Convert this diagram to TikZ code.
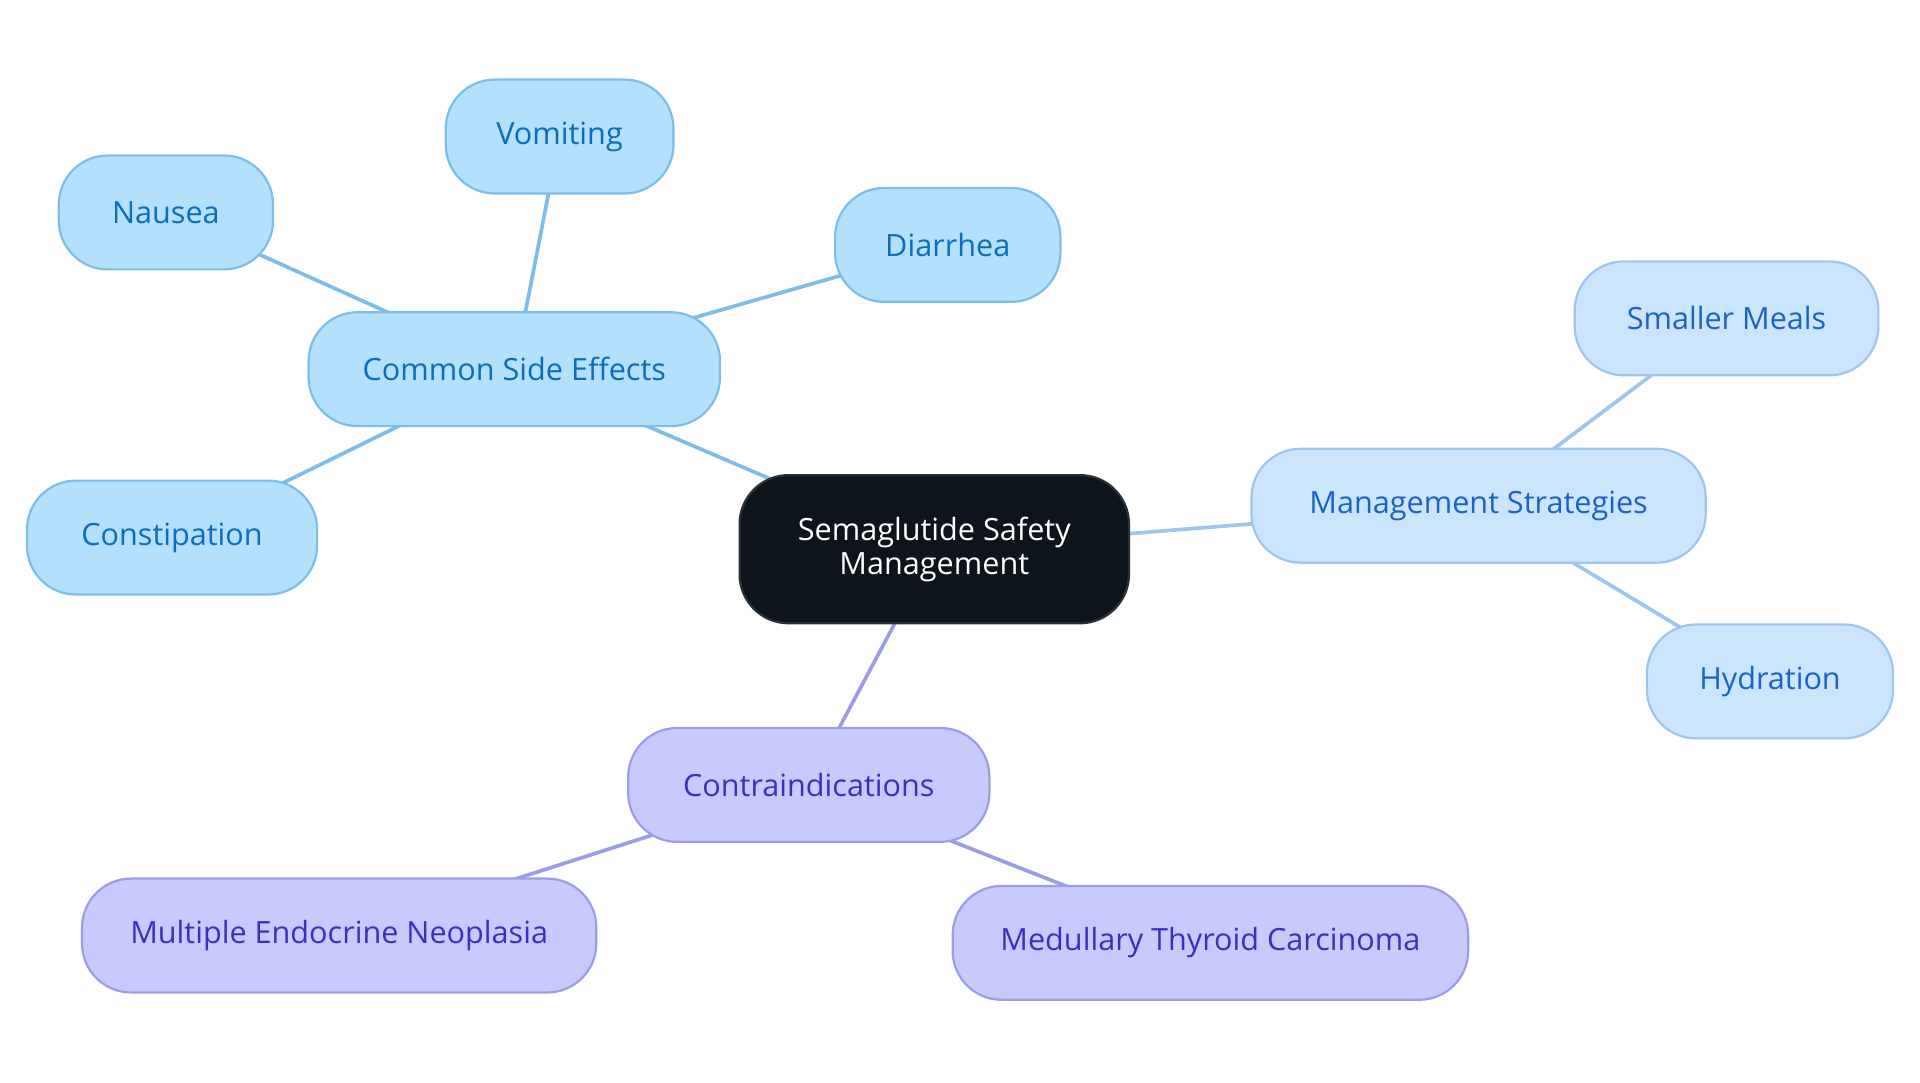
\documentclass[tikz,border=0pt]{standalone}
\usepackage{fontspec}
\setmainfont{Open Sans}
\usetikzlibrary{backgrounds}

\definecolor{sidefill}{HTML}{B3E0FD}
\definecolor{sideline}{HTML}{7EBDEA}
\definecolor{sidetext}{HTML}{0B6DBB}
\definecolor{planfill}{HTML}{CCE5FF}
\definecolor{planline}{HTML}{9DC6EE}
\definecolor{plantext}{HTML}{1B62C6}
\definecolor{contrafill}{HTML}{C8CAFD}
\definecolor{contraline}{HTML}{9C9DE8}
\definecolor{contratext}{HTML}{3A30C0}
\definecolor{hubfill}{HTML}{0D141B}
\definecolor{hubline}{HTML}{2B3037}

\begin{document}
\begin{tikzpicture}
        [x=0.5pt,y=-0.5pt,
         box/.style={rounded corners=20pt,line width=0.9pt,minimum height=46.5pt,
                     inner sep=0pt,font=\fontsize{12.5}{14}\selectfont},
         side/.style={box,fill=sidefill,draw=sideline,text=sidetext},
         plan/.style={box,fill=planfill,draw=planline,text=plantext},
         contra/.style={box,fill=contrafill,draw=contraline,text=contratext},
         hub/.style={box,fill=hubfill,draw=hubline,text=white,align=center,minimum height=60.5pt},
         sidelink/.style={line width=1.5pt,sideline},
         planlink/.style={line width=1.5pt,planline},
         contralink/.style={line width=1.5pt,contraline}]

        \useasboundingbox (0,0) rectangle (1568,884);

        \node[hub,minimum width=159pt] (safety) at (763,448.5) {Semaglutide Safety\\Management};

        \node[side,minimum width=168pt] (effects) at (420,301.5) {Common Side Effects};
        \node[side,minimum width=93pt] (vomiting) at (457,111.5) {Vomiting};
        \node[side,minimum width=87.5pt] (nausea) at (135.5,173.5) {Nausea};
        \node[side,minimum width=92pt] (diarrhea) at (774,200) {Diarrhea};
        \node[side,minimum width=118.5pt] (constipation) at (140.5,439) {Constipation};

        \node[plan,minimum width=185.5pt] (strategies) at (1207.5,413) {Management Strategies};
        \node[plan,minimum width=124pt] (meals) at (1410,260) {Smaller Meals};
        \node[plan,minimum width=100.5pt] (hydration) at (1445.5,556.5) {Hydration};

        \node[contra,minimum width=147.5pt] (contra) at (660.5,641) {Contraindications};
        \node[contra,minimum width=210pt] (neoplasia) at (277,764) {Multiple Endocrine Neoplasia};
        \node[contra,minimum width=210.5pt] (carcinoma) at (988.5,770) {Medullary Thyroid Carcinoma};

        \begin{scope}[on background layer]
            \draw[sidelink] (safety.center) -- (effects.center);
            \draw[sidelink] (effects.center) -- (vomiting.center);
            \draw[sidelink] (effects.center) -- (nausea.center);
            \draw[sidelink] (effects.center) -- (diarrhea.center);
            \draw[sidelink] (effects.center) -- (constipation.center);
            \draw[planlink] (safety.center) -- (strategies.center);
            \draw[planlink] (strategies.center) -- (meals.center);
            \draw[planlink] (strategies.center) -- (hydration.center);
            \draw[contralink] (safety.center) -- (contra.center);
            \draw[contralink] (contra.center) -- (neoplasia.center);
            \draw[contralink] (contra.center) -- (carcinoma.center);
        \end{scope}

    \end{tikzpicture}
\end{document}
